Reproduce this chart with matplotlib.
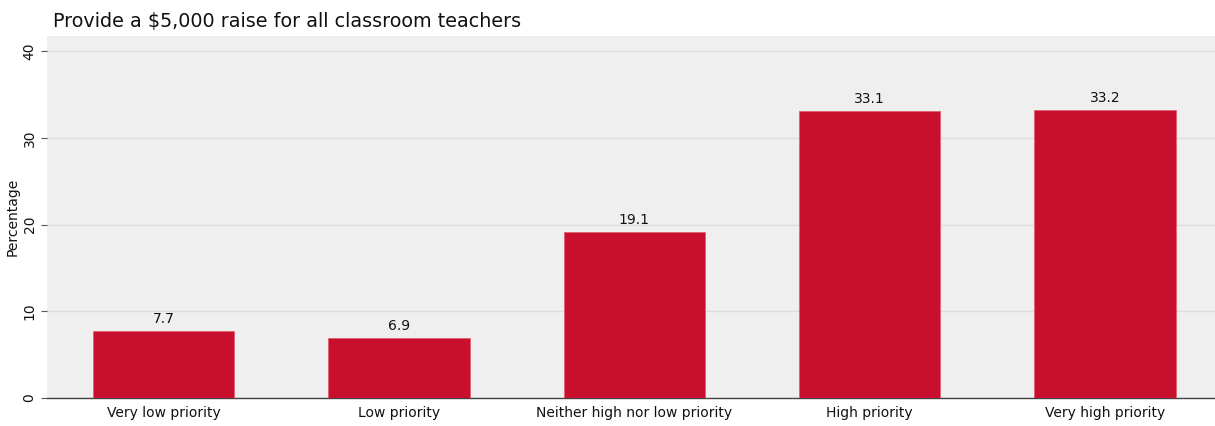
import matplotlib.pyplot as plt

# Data
categories = ['Very low priority', 'Low priority', 'Neither high nor low priority',
              'High priority', 'Very high priority']
values = [7.7, 6.9, 19.1, 33.1, 33.2]

bar_color = '#c8102e'
bg_color = '#efefef'

fig = plt.figure(figsize=(12.15, 4.26), dpi=100)
ax = fig.add_axes([47 / 1215, 1 - 398 / 426, 1 - 47 / 1215, (398 - 36) / 426])
ax.set_facecolor(bg_color)

x = range(len(categories))
bars = ax.bar(x, values, width=0.6, color=bar_color, edgecolor='#e06070', linewidth=0.6, zorder=3)

for bar, v in zip(bars, values):
    ax.text(bar.get_x() + bar.get_width() / 2, v + 0.6, f"{v:.1f}",
            ha='center', va='bottom', fontsize=10, color='#111111')

ax.set_xlim(-0.495, 4.467)
ax.set_ylim(0, 41.75)
ax.set_yticks([0, 10, 20, 30, 40])
ax.set_xticks(list(x))
ax.set_xticklabels(categories, fontsize=10, color='#111111')
ax.tick_params(axis='x', length=0, pad=6)
ax.tick_params(axis='y', length=4, color='#555555', labelsize=10, labelcolor='#111111')
for lab in ax.get_yticklabels():
    lab.set_rotation(90)
    lab.set_va('center')

ax.yaxis.grid(True, color='#dcdcdc', linewidth=1, zorder=0)
ax.set_axisbelow(True)
for s in ['top', 'right', 'left']:
    ax.spines[s].set_visible(False)
ax.spines['bottom'].set_color('#444444')
ax.spines['bottom'].set_linewidth(1)

ax.set_ylabel('Percentage', fontsize=10, labelpad=2, color='#111111')
fig.text(53 / 1215, 1 - 22 / 426, 'Provide a $5,000 raise for all classroom teachers',
         fontsize=13.8, ha='left', va='center', color='#111111')

fig.savefig('out.png', dpi=100)
